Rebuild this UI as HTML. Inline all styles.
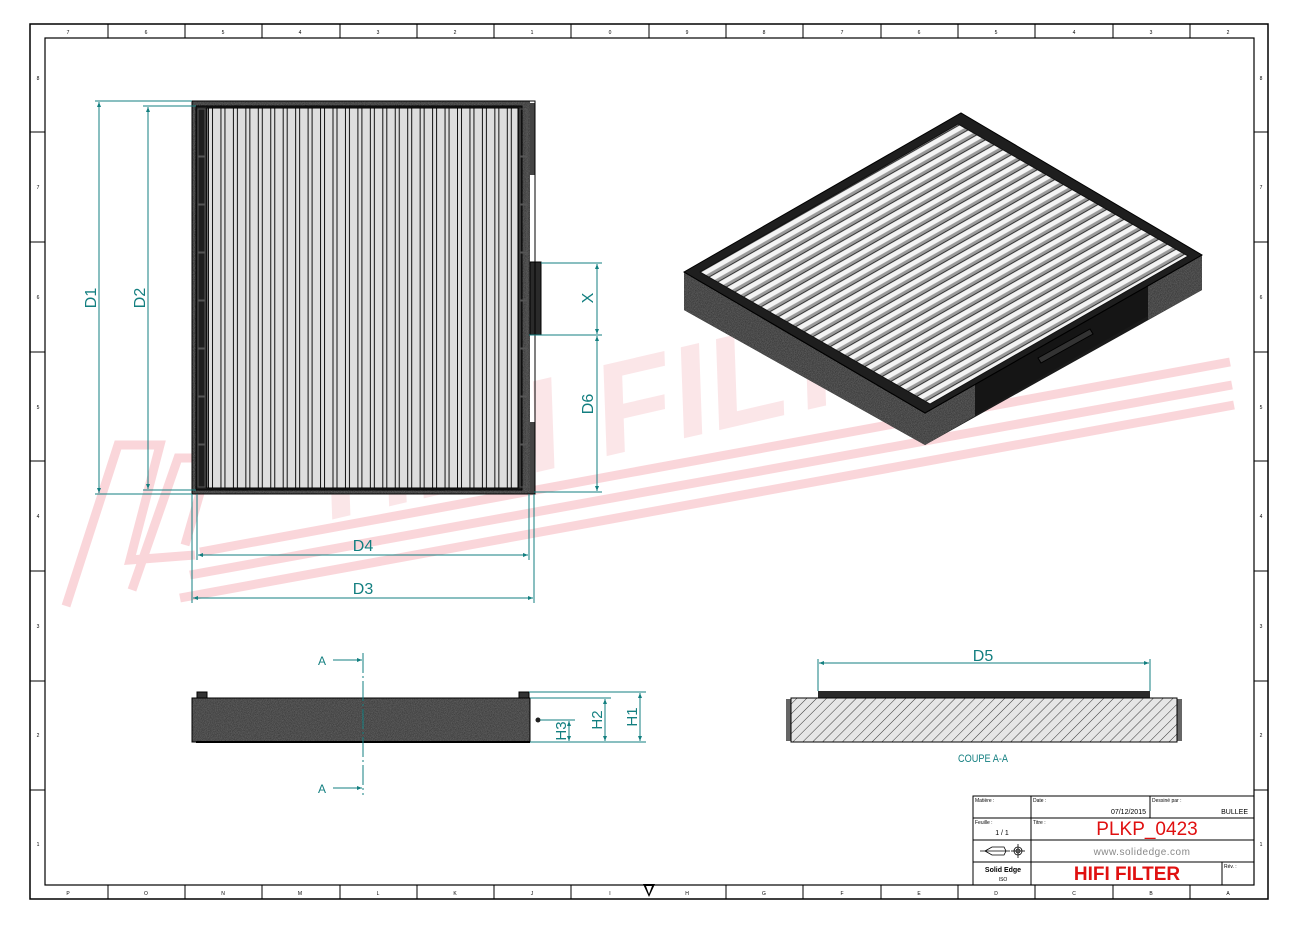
<!DOCTYPE html>
<html><head><meta charset="utf-8"><style>
html,body{margin:0;padding:0;background:#fff;}
svg{display:block;}
text{font-family:"Liberation Sans",sans-serif;}
</style></head><body>
<svg width="1300" height="926" viewBox="0 0 1300 926" xmlns="http://www.w3.org/2000/svg">
<defs>
<pattern id="pleat" patternUnits="userSpaceOnUse" x="208" y="0" width="12.45" height="10">
<rect width="12.45" height="10" fill="#dedede"/>
<line x1="0.5" y1="0" x2="0.5" y2="10" stroke="#111" stroke-width="1"/>
<line x1="4.5" y1="0" x2="4.5" y2="10" stroke="#111" stroke-width="1"/>
</pattern>
<pattern id="isop" patternUnits="userSpaceOnUse" width="20" height="8.6" patternTransform="rotate(-29.6)">
<rect width="20" height="8.6" fill="#f4f4f4"/>
<rect y="3" width="20" height="3" fill="#9a9a9a"/>
<line x1="0" y1="6.3" x2="20" y2="6.3" stroke="#222" stroke-width="0.9"/>
</pattern>
<pattern id="hatch" patternUnits="userSpaceOnUse" width="7" height="7" patternTransform="rotate(45)">
<rect width="7" height="7" fill="#e6e6e6"/>
<line x1="0" y1="0" x2="0" y2="7" stroke="#222" stroke-width="0.9"/>
</pattern>
<filter id="noise" x="0" y="0" width="100%" height="100%">
<feTurbulence type="fractalNoise" baseFrequency="1.3" numOctaves="1" result="n"/>
<feColorMatrix type="matrix" values="0 0 0 0 0.5  0 0 0 0 0.5  0 0 0 0 0.5  0 0 0 0.55 -0.05" in="n" result="c"/>
<feComposite in="c" in2="SourceGraphic" operator="in"/>
</filter>
<marker id="ar" viewBox="0 0 10 10" refX="10" refY="5" markerWidth="9" markerHeight="5" orient="auto-start-reverse" markerUnits="userSpaceOnUse"><path d="M0,1 L10,5 L0,9 z" fill="#137f80"/></marker>
</defs>

<!-- watermark -->
<g opacity="0.3" fill="none" stroke="#f07a88" stroke-width="9">
<polyline points="66,606 118,445 160,445 130,560 195,555" />
<polyline points="132,590 178,458 210,458 185,545" />
<line x1="200" y1="552" x2="1230" y2="362"/>
<line x1="190" y1="575" x2="1232" y2="385"/>
<line x1="180" y1="598" x2="1234" y2="405"/>
</g>
<text x="330" y="520" font-family="Liberation Serif,serif" font-weight="bold" font-style="italic" font-size="130" fill="#f7c8ce" opacity="0.45" transform="rotate(-13 330 520)">HIFI FILTER</text>

<!-- frame -->
<rect x="30" y="24" width="1238" height="875" fill="none" stroke="#000" stroke-width="1.5"/>
<rect x="45" y="38" width="1209" height="847" fill="none" stroke="#000" stroke-width="1.2"/>
<g stroke="#000" stroke-width="1">
<line x1="108" y1="24" x2="108" y2="38"/><line x1="185" y1="24" x2="185" y2="38"/><line x1="262" y1="24" x2="262" y2="38"/><line x1="340" y1="24" x2="340" y2="38"/><line x1="417" y1="24" x2="417" y2="38"/><line x1="494" y1="24" x2="494" y2="38"/><line x1="571" y1="24" x2="571" y2="38"/><line x1="649" y1="24" x2="649" y2="38"/><line x1="726" y1="24" x2="726" y2="38"/><line x1="803" y1="24" x2="803" y2="38"/><line x1="881" y1="24" x2="881" y2="38"/><line x1="958" y1="24" x2="958" y2="38"/><line x1="1035" y1="24" x2="1035" y2="38"/><line x1="1113" y1="24" x2="1113" y2="38"/><line x1="1190" y1="24" x2="1190" y2="38"/>
<line x1="108" y1="885" x2="108" y2="899"/><line x1="185" y1="885" x2="185" y2="899"/><line x1="262" y1="885" x2="262" y2="899"/><line x1="340" y1="885" x2="340" y2="899"/><line x1="417" y1="885" x2="417" y2="899"/><line x1="494" y1="885" x2="494" y2="899"/><line x1="571" y1="885" x2="571" y2="899"/><line x1="726" y1="885" x2="726" y2="899"/><line x1="803" y1="885" x2="803" y2="899"/><line x1="881" y1="885" x2="881" y2="899"/><line x1="958" y1="885" x2="958" y2="899"/><line x1="1035" y1="885" x2="1035" y2="899"/><line x1="1113" y1="885" x2="1113" y2="899"/><line x1="1190" y1="885" x2="1190" y2="899"/>
<line x1="30" y1="132" x2="45" y2="132"/><line x1="30" y1="242" x2="45" y2="242"/><line x1="30" y1="352" x2="45" y2="352"/><line x1="30" y1="461" x2="45" y2="461"/><line x1="30" y1="571" x2="45" y2="571"/><line x1="30" y1="681" x2="45" y2="681"/><line x1="30" y1="790" x2="45" y2="790"/>
<line x1="1254" y1="132" x2="1268" y2="132"/><line x1="1254" y1="242" x2="1268" y2="242"/><line x1="1254" y1="352" x2="1268" y2="352"/><line x1="1254" y1="461" x2="1268" y2="461"/><line x1="1254" y1="571" x2="1268" y2="571"/><line x1="1254" y1="681" x2="1268" y2="681"/><line x1="1254" y1="790" x2="1268" y2="790"/>
</g>
<g font-size="5" fill="#000" text-anchor="middle">
<text x="68" y="34">7</text><text x="146" y="34">6</text><text x="223" y="34">5</text><text x="300" y="34">4</text><text x="378" y="34">3</text><text x="455" y="34">2</text><text x="532" y="34">1</text><text x="610" y="34">0</text><text x="687" y="34">9</text><text x="764" y="34">8</text><text x="842" y="34">7</text><text x="919" y="34">6</text><text x="996" y="34">5</text><text x="1074" y="34">4</text><text x="1151" y="34">3</text><text x="1228" y="34">2</text>
<text x="68" y="895">P</text><text x="146" y="895">O</text><text x="223" y="895">N</text><text x="300" y="895">M</text><text x="378" y="895">L</text><text x="455" y="895">K</text><text x="532" y="895">J</text><text x="610" y="895">I</text><text x="687" y="895">H</text><text x="764" y="895">G</text><text x="842" y="895">F</text><text x="919" y="895">E</text><text x="996" y="895">D</text><text x="1074" y="895">C</text><text x="1151" y="895">B</text><text x="1228" y="895">A</text>
<text x="1261" y="80">8</text><text x="1261" y="189">7</text><text x="1261" y="299">6</text><text x="1261" y="409">5</text><text x="1261" y="518">4</text><text x="1261" y="628">3</text><text x="1261" y="737">2</text><text x="1261" y="846">1</text>
<text x="38" y="80">8</text><text x="38" y="189">7</text><text x="38" y="299">6</text><text x="38" y="409">5</text><text x="38" y="518">4</text><text x="38" y="628">3</text><text x="38" y="737">2</text><text x="38" y="846">1</text>
</g>
<path d="M643,884 L655,884 L649,897 z" fill="#000"/><path d="M646,886 L652,886 L649,894 z" fill="#fff"/>

<!-- FRONT VIEW -->
<rect x="192" y="101" width="338" height="393" fill="#2a2a2a"/>
<rect x="192" y="101" width="338" height="393" fill="#777" filter="url(#noise)"/>
<rect x="530" y="103" width="5" height="72" fill="#444"/>
<rect x="530" y="422" width="5" height="72" fill="#444"/>
<rect x="530" y="262" width="11" height="73" fill="#2a2a2a" stroke="#000" stroke-width="1"/>
<rect x="196" y="106" width="326" height="384" fill="#1e1e1e" stroke="#000"/>
<rect x="207" y="108" width="311" height="380" fill="url(#pleat)" stroke="#000"/>
<g stroke="#555" stroke-width="1" fill="none">
<rect x="198" y="109" width="7" height="47"/><rect x="198" y="157" width="7" height="47"/><rect x="198" y="205" width="7" height="47"/><rect x="198" y="253" width="7" height="47"/><rect x="198" y="301" width="7" height="47"/><rect x="198" y="349" width="7" height="47"/><rect x="198" y="397" width="7" height="47"/><rect x="198" y="445" width="7" height="42"/>
<rect x="520" y="109" width="7" height="47"/><rect x="520" y="157" width="7" height="47"/><rect x="520" y="205" width="7" height="47"/><rect x="520" y="253" width="7" height="47"/><rect x="520" y="301" width="7" height="47"/><rect x="520" y="349" width="7" height="47"/><rect x="520" y="397" width="7" height="47"/><rect x="520" y="445" width="7" height="42"/>
</g>
<rect x="192" y="101" width="343" height="393" fill="none" stroke="#000" stroke-width="1"/>

<!-- front dims -->
<g stroke="#137f80" stroke-width="1" fill="none">
<line x1="95" y1="101" x2="192" y2="101"/><line x1="143" y1="106" x2="196" y2="106"/>
<line x1="95" y1="494" x2="192" y2="494"/><line x1="143" y1="490" x2="196" y2="490"/>
<line x1="99" y1="102" x2="99" y2="493" marker-start="url(#ar)" marker-end="url(#ar)"/>
<line x1="148" y1="107" x2="148" y2="489" marker-start="url(#ar)" marker-end="url(#ar)"/>
<line x1="541" y1="263" x2="602" y2="263"/><line x1="529" y1="335" x2="602" y2="335"/><line x1="534" y1="492" x2="602" y2="492"/>
<line x1="597" y1="264" x2="597" y2="334" marker-start="url(#ar)" marker-end="url(#ar)"/>
<line x1="597" y1="336" x2="597" y2="491" marker-start="url(#ar)" marker-end="url(#ar)"/>
<line x1="192" y1="494" x2="192" y2="603"/><line x1="534" y1="494" x2="534" y2="603"/>
<line x1="197" y1="494" x2="197" y2="560"/><line x1="529" y1="494" x2="529" y2="560"/>
<line x1="198" y1="555" x2="528" y2="555" marker-start="url(#ar)" marker-end="url(#ar)"/>
<line x1="193" y1="598" x2="533" y2="598" marker-start="url(#ar)" marker-end="url(#ar)"/>
</g>
<g fill="#137f80" font-size="16">
<text x="96" y="298" transform="rotate(-90 96 298)" text-anchor="middle">D1</text>
<text x="145" y="298" transform="rotate(-90 145 298)" text-anchor="middle">D2</text>
<text x="593" y="298" transform="rotate(-90 593 298)" text-anchor="middle">X</text>
<text x="593" y="404" transform="rotate(-90 593 404)" text-anchor="middle">D6</text>
<text x="363" y="551" text-anchor="middle">D4</text>
<text x="363" y="594" text-anchor="middle">D3</text>
</g>

<!-- ISO VIEW -->
<polygon points="684,272 961,113 1202,255 925,418 925,445 684,310" fill="#1e1e1e"/>
<polygon points="684,272 925,413 925,445 684,310" fill="#2a2a2a"/>
<polygon points="684,272 925,413 925,445 684,310" fill="#777" filter="url(#noise)"/>
<polygon points="925,413 1202,255 1202,290 925,445" fill="#1a1a1a"/>
<polygon points="975,384 1148,285 1148,316 975,415" fill="#151515"/>
<polygon points="1148,285 1202,255 1202,290 1148,320" fill="#2a2a2a"/>
<polygon points="1148,285 1202,255 1202,290 1148,320" fill="#777" filter="url(#noise)"/>
<polygon points="925,413 975,385 975,416 925,445" fill="#2a2a2a"/>
<polygon points="925,413 975,385 975,416 925,445" fill="#777" filter="url(#noise)"/>
<polygon points="1038,358 1090,329 1093,334 1041,363" fill="#333" stroke="#000"/>
<polygon points="684,272 961,113 1202,255 925,413" fill="#1e1e1e" stroke="#000"/>
<polygon points="700,272 958,124 1188,256 930,404" fill="url(#isop)"/>
<polygon points="700,272 958,124 1188,256 930,404" fill="none" stroke="#111"/>
<line x1="684" y1="272" x2="925" y2="413" stroke="#000"/>
<line x1="925" y1="413" x2="1202" y2="255" stroke="#000"/>

<!-- SIDE VIEW -->
<rect x="197" y="692" width="10" height="6" fill="#333" stroke="#000"/>
<rect x="519" y="692" width="10" height="6" fill="#333" stroke="#000"/>
<rect x="192" y="698" width="338" height="44" fill="#2e2e2e"/>
<rect x="192" y="698" width="338" height="44" fill="#888" filter="url(#noise)"/>
<rect x="192" y="698" width="338" height="44" fill="none" stroke="#000"/>
<line x1="196" y1="742" x2="530" y2="742" stroke="#000" stroke-width="2"/>
<circle cx="538" cy="720" r="2.5" fill="#222"/>
<g stroke="#137f80" stroke-width="1" fill="none">
<line x1="363" y1="653" x2="363" y2="795" stroke-dasharray="20,3,2,3"/>
<line x1="333" y1="660" x2="362" y2="660" marker-end="url(#ar)"/>
<line x1="333" y1="788" x2="362" y2="788" marker-end="url(#ar)"/>
<line x1="529" y1="692" x2="646" y2="692"/><line x1="530" y1="698" x2="611" y2="698"/>
<line x1="540" y1="720" x2="575" y2="720"/><line x1="530" y1="742" x2="646" y2="742"/>
<line x1="640" y1="693" x2="640" y2="741" marker-start="url(#ar)" marker-end="url(#ar)"/>
<line x1="605" y1="699" x2="605" y2="741" marker-start="url(#ar)" marker-end="url(#ar)"/>
<line x1="569" y1="721" x2="569" y2="741" marker-start="url(#ar)" marker-end="url(#ar)"/>
</g>
<g fill="#137f80" font-size="12">
<text x="322" y="665" text-anchor="middle">A</text><text x="322" y="793" text-anchor="middle">A</text>
<text x="637" y="717" font-size="15" transform="rotate(-90 637 717)" text-anchor="middle">H1</text>
<text x="602" y="720" font-size="15" transform="rotate(-90 602 720)" text-anchor="middle">H2</text>
<text x="566" y="731" font-size="15" transform="rotate(-90 566 731)" text-anchor="middle">H3</text>
</g>

<!-- SECTION -->
<rect x="818" y="691" width="332" height="7" fill="#2a2a2a"/>
<rect x="786" y="699" width="6" height="42" fill="#666"/>
<rect x="1176" y="699" width="6" height="42" fill="#666"/>
<rect x="791" y="698" width="386" height="44" fill="url(#hatch)" stroke="#000"/>
<g stroke="#137f80" stroke-width="1" fill="none">
<line x1="818" y1="659" x2="818" y2="691"/><line x1="1150" y1="659" x2="1150" y2="691"/>
<line x1="819" y1="663" x2="1149" y2="663" marker-start="url(#ar)" marker-end="url(#ar)"/>
</g>
<text x="983" y="661" fill="#137f80" font-size="16" text-anchor="middle">D5</text>
<text x="958" y="762" fill="#137f80" font-size="11" textLength="50" lengthAdjust="spacingAndGlyphs">COUPE A-A</text>

<!-- TITLE BLOCK -->
<g stroke="#000" stroke-width="1" fill="none">
<rect x="973" y="796" width="281" height="89"/>
<line x1="973" y1="818" x2="1254" y2="818"/>
<line x1="973" y1="840" x2="1254" y2="840"/>
<line x1="973" y1="862" x2="1254" y2="862"/>
<line x1="1031" y1="796" x2="1031" y2="885"/>
<line x1="1150" y1="796" x2="1150" y2="818"/>
<line x1="1222" y1="862" x2="1222" y2="885"/>
</g>
<g font-size="5" fill="#000">
<text x="975" y="802">Matière :</text><text x="1033" y="802">Date :</text><text x="1152" y="802">Dessiné par :</text>
<text x="975" y="824">Feuille :</text><text x="1033" y="824">Titre :</text><text x="1224" y="868">Rév. :</text>
</g>
<text x="1146" y="814" font-size="7" text-anchor="end">07/12/2015</text>
<text x="1248" y="814" font-size="7" text-anchor="end">BULLEE</text>
<text x="1002" y="835" font-size="7" text-anchor="middle">1 / 1</text>
<text x="1147" y="835" font-size="19" fill="#e01010" text-anchor="middle">PLKP_0423</text>
<text x="1142" y="855" font-size="10" fill="#888" text-anchor="middle" letter-spacing="0.5">www.solidedge.com</text>
<text x="1003" y="872" font-size="7" font-weight="bold" text-anchor="middle">Solid Edge</text>
<text x="1003" y="881" font-size="5" text-anchor="middle">ISO</text>
<text x="1127" y="880" font-size="19" font-weight="bold" fill="#e01010" text-anchor="middle">HIFI FILTER</text>
<g stroke="#000" stroke-width="0.8" fill="none">
<polyline points="985,851 992,847 1004,847 1006,851 1004,855 992,855 985,851"/>
<line x1="980" y1="851" x2="1010" y2="851"/>
<circle cx="1018" cy="851" r="4"/><circle cx="1018" cy="851" r="2"/>
<line x1="1018" y1="844" x2="1018" y2="858"/><line x1="1011" y1="851" x2="1025" y2="851"/>
</g>
</svg>
</body></html>
